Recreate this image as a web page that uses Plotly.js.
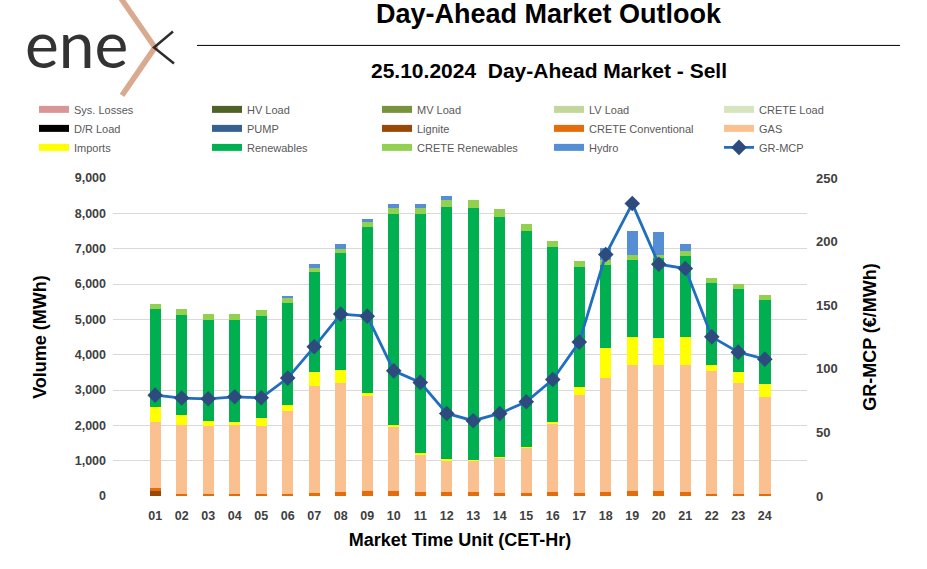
<!DOCTYPE html>
<html>
<head>
<meta charset="utf-8">
<script src="https://cdn.plot.ly/plotly-3.0.1.min.js"></script>
<style>
  html, body { margin: 0; padding: 0; background: #ffffff; }
  #chart { width: 927px; height: 569px; }
</style>
</head>
<body>
<div id="chart"></div>
<script>
// ---- Data ----
const hours = ['01','02','03','04','05','06','07','08','09','10','11','12',
               '13','14','15','16','17','18','19','20','21','22','23','24'];

const lignite    = [150, 0, 0, 0, 0, 0, 0, 0, 0, 0, 0, 0, 0, 0, 0, 0, 0, 0, 0, 0, 0, 0, 0, 0];
const creteConv  = [68, 70, 70, 70, 70, 65, 93, 122, 141, 141, 122, 122, 113, 93, 93, 105, 93, 122, 141, 150, 122, 65, 57, 65];
const gas        = [1882, 1929, 1909, 1937, 1909, 2346, 3025, 3081, 2686, 1818, 1046, 867, 868, 981, 1264, 1930, 2771, 3214, 3562, 3545, 3573, 3469, 3129, 2725];
const imports    = [408, 291, 150, 93, 226, 153, 396, 359, 93, 40, 39, 57, 37, 37, 37, 48, 226, 848, 800, 763, 808, 169, 311, 368];
const renewables = [2798, 2835, 2866, 2884, 2903, 2901, 2827, 3308, 4685, 5993, 6774, 7133, 7132, 6785, 6106, 4956, 3392, 2366, 2189, 2270, 2290, 2319, 2363, 2391];
const creteRen   = [142, 161, 159, 161, 150, 132, 124, 133, 161, 170, 181, 197, 218, 217, 209, 190, 170, 141, 130, 105, 133, 149, 153, 142];
const hydro      = [0, 0, 0, 0, 0, 57, 94, 121, 73, 101, 101, 105, 0, 0, 0, 0, 0, 320, 670, 630, 218, 0, 0, 0];
const grMcp      = [79.3, 77.0, 76.4, 78.0, 77.2, 92.7, 117.3, 143.0, 141.4, 98.4, 89.3, 64.9,
                    59.2, 64.9, 74.1, 91.6, 121.0, 189.8, 229.9, 182.2, 178.8, 125.1, 113.1, 107.6];

// Legend entries (names and colours), in the reference's order (row by row, 5 columns)
const legendNames  = ['Sys. Losses','HV Load','MV Load','LV Load','CRETE Load',
                      'D/R Load','PUMP','Lignite','CRETE Conventional','GAS',
                      'Imports','Renewables','CRETE Renewables','Hydro'];
const legendColors = ['#D99694','#4F6228','#77933C','#C3D69B','#D7E4BD',
                      '#000000','#376092','#984807','#E46C0A','#FAC090',
                      '#FFFF00','#00B050','#92D050','#558ED5'];

// Stacked bar series (bottom to top)
const barSeries = [
  {name: 'Lignite', values: lignite},
  {name: 'CRETE Conventional', values: creteConv},
  {name: 'GAS', values: gas},
  {name: 'Imports', values: imports},
  {name: 'Renewables', values: renewables},
  {name: 'CRETE Renewables', values: creteRen},
  {name: 'Hydro', values: hydro}
];

const colorOf = name => legendColors[legendNames.indexOf(name)];
const legendId = i => (i % 5 === 0 ? 'legend' : 'legend' + (i % 5 + 1));

const traces = [];
barSeries.forEach(s => {
  traces.push({
    type: 'bar', x: hours, y: s.values, name: s.name,
    marker: {color: colorOf(s.name), line: {width: 0}},
    showlegend: false, hoverinfo: 'x+y+name'
  });
});
// Legend proxies (wide flat swatches like the original)
legendNames.forEach((n, i) => {
  traces.push({
    type: 'scatter', mode: 'lines', x: [hours[0]], y: [null], name: n,
    legend: legendId(i),
    line: {color: legendColors[i], width: 7}, hoverinfo: 'skip', showlegend: true
  });
});
// Price line
traces.push({
  type: 'scatter', mode: 'lines+markers', x: hours, y: grMcp, name: 'GR-MCP', yaxis: 'y2',
  legend: legendId(14),
  line: {color: '#1F6EBF', width: 2.8},
  marker: {symbol: 'diamond', size: 12, color: '#2E4B7E'}
});

// pixel helpers for paper coordinates (plot area: x 113..807, y 178..496)
const PL = 113, PR = 807, PT = 177.7, PB = 496;
const px = v => (v - PL) / (PR - PL);
const py = v => (PB - v) / (PB - PT);

const FONT = 'Liberation Sans, Arial, sans-serif';
const legendFont = {family: FONT, size: 11, color: '#595959'};
const legendCols = [34, 207, 377, 549, 719];

const layout = {
  width: 927, height: 569,
  margin: {l: PL, r: 927 - PR, t: PT, b: 569 - PB, autoexpand: false},
  paper_bgcolor: '#ffffff', plot_bgcolor: '#ffffff',
  font: {family: FONT, color: '#404040'},
  barmode: 'stack', bargap: 0.57,
  showlegend: true,
  xaxis: {
    type: 'category', showgrid: false, zeroline: false, showline: false, ticks: '',
    ticklabelstandoff: 10,
    tickfont: {family: FONT, size: 12.5, color: '#404040', weight: 'bold'},
    title: {text: 'Market Time Unit (CET-Hr)', font: {family: FONT, size: 18, color: '#000000', weight: 'bold'}, standoff: 11}
  },
  yaxis: {
    range: [0, 9000], dtick: 1000, tickformat: ',d', showgrid: true, gridcolor: '#D9D9D9', gridwidth: 1,
    zeroline: false, showline: false, ticks: '', ticklabelstandoff: 6,
    tickfont: {family: FONT, size: 12.5, color: '#404040', weight: 'bold'},
    title: {text: 'Volume (MWh)', font: {family: FONT, size: 18, color: '#000000', weight: 'bold'}, standoff: 23}
  },
  yaxis2: {
    overlaying: 'y', side: 'right', range: [0, 250], dtick: 50, showgrid: false, zeroline: false,
    showline: false, ticks: '', ticklabelstandoff: 8,
    tickfont: {family: FONT, size: 13, color: '#404040', weight: 'bold'},
    title: {text: 'GR-MCP (€/MWh)', font: {family: FONT, size: 18, color: '#000000', weight: 'bold'}, standoff: 26}
  },
  annotations: [
    {text: 'Day-Ahead Market Outlook', xref: 'paper', yref: 'paper', x: px(549), y: py(14),
     xanchor: 'center', yanchor: 'middle', showarrow: false,
     font: {family: FONT, size: 27, color: '#000000', weight: 'bold'}},
    {text: '25.10.2024  Day-Ahead Market - Sell', xref: 'paper', yref: 'paper', x: px(549), y: py(70),
     xanchor: 'center', yanchor: 'middle', showarrow: false,
     font: {family: FONT, size: 21, color: '#000000', weight: 'bold'}},
    {text: 'ene', xref: 'paper', yref: 'paper', x: px(23), y: py(43),
     xanchor: 'left', yanchor: 'middle', showarrow: false,
     font: {family: 'Lato, Liberation Sans, sans-serif', size: 64, color: '#333333', weight: 400}}
  ],
  shapes: [
    {type: 'line', xref: 'paper', yref: 'paper', x0: px(197), x1: px(900), y0: py(45), y1: py(45),
     line: {color: '#000000', width: 1}},
    {type: 'path', xref: 'paper', yref: 'paper',
     path: `M${px(121)},${py(-2)} L${px(155)},${py(47)} L${px(122)},${py(95)}`,
     line: {color: '#D9A990', width: 5.5}},
    {type: 'path', xref: 'paper', yref: 'paper',
     path: `M${px(173)},${py(31)} L${px(154)},${py(47)} L${px(174)},${py(63)}`,
     line: {color: '#2E2E2E', width: 2.5}}
  ]
};

// five vertical legends, one per column
legendCols.forEach((c, k) => {
  const key = k === 0 ? 'legend' : 'legend' + (k + 1);
  layout[key] = {
    orientation: 'v', x: px(c), xanchor: 'left', y: py(94.5), yanchor: 'top',
    itemwidth: 30, font: legendFont, bgcolor: 'rgba(0,0,0,0)', borderwidth: 0,
    traceorder: 'normal', tracegroupgap: 0
  };
});

Plotly.newPlot('chart', traces, layout, {displayModeBar: false, staticPlot: true});
</script>
</body>
</html>
